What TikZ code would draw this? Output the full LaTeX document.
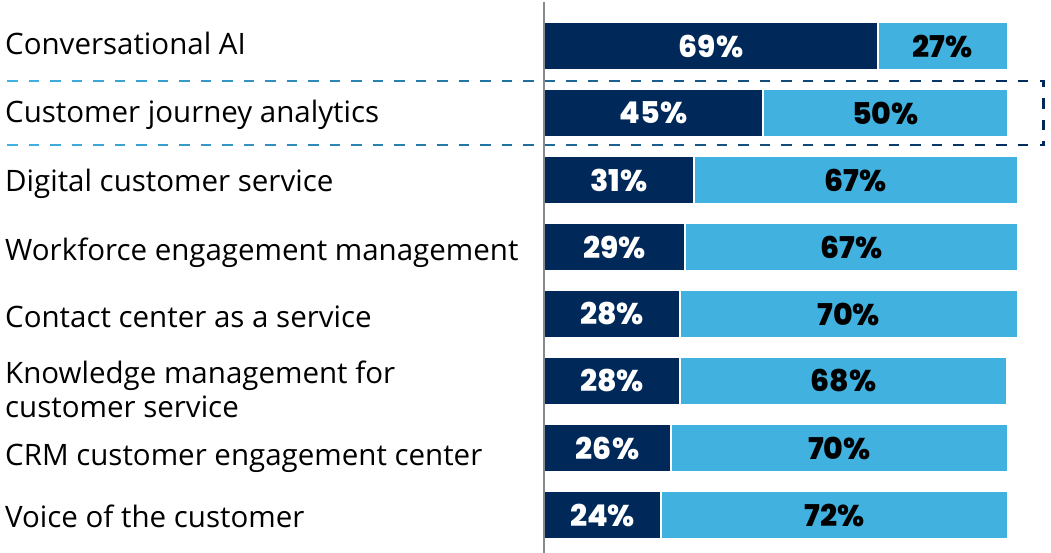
\documentclass[tikz,border=0pt]{standalone}
\usepackage{fontspec}
\setmainfont{Open Sans}
\newfontfamily\numfont{Poppins}[BoldFont={Poppins ExtraBold}]
\usetikzlibrary{positioning}
\definecolor{navy}{HTML}{00295A}
\definecolor{sky}{HTML}{41B2E0}
\definecolor{axisgray}{HTML}{868C8E}

\begin{document}
\begin{tikzpicture}[x=1pt, y=-1pt,
  lab/.style={anchor=base west, inner sep=0pt, align=left, font=\fontsize{29.5}{34}\selectfont},
  bar/.style={anchor=west, inner sep=0pt, outer sep=0pt, minimum height=46pt},
  darkbar/.style={bar, fill=navy, text=white, font=\numfont\bfseries\fontsize{30}{30}\selectfont},
  lightbar/.style={bar, fill=sky, text=black, font=\numfont\bfseries\fontsize{30}{30}\selectfont}]
\useasboundingbox (0,0) rectangle (1051,553);

% bars and labels
\foreach \lbl/\base/\d/\l/\xa/\xb [count=\i] in {
  Conversational AI/55/69/27/877/1007,
  Customer journey analytics/123/45/50/762/1007,
  Digital customer service/192/31/67/693/1017,
  Workforce engagement management/260/29/67/684/1017,
  Contact center as a service/327/28/70/679/1017,
  {Knowledge management for\\customer service}/417/28/68/679/1006,
  CRM customer engagement center/465/26/70/670/1007,
  Voice of the customer/527/24/72/660/1007}
{
  \pgfmathsetmacro\yc{46+67*(\i-1)}
  \pgfmathsetmacro\wa{\xa-545}
  \pgfmathsetmacro\wb{\xb-\xa-1.5}
  \node[lab] (lab-\i) at (5,\base) {\lbl};
  \node[darkbar, minimum width=\wa pt] (dk-\i) at (545,\yc) {\d\%};
  \node[lightbar, minimum width=\wb pt, right=1.5pt of dk-\i] (lt-\i) {\l\%};
}

% axis
\coordinate (axtop) at (544,2);
\coordinate (axbot) at (544,553);
\draw[axisgray, line width=2.2pt] (axtop) -- (axbot);

% highlight frame
\foreach \x in {7,28.5,...,1030}{
  \pgfmathsetmacro\mx{(\x-7)/1037*100}
  \draw[navy!\mx!sky, line width=2.8pt] (\x,81) -- ++(10.5,0);
  \draw[navy!\mx!sky, line width=2.8pt] (\x,145) -- ++(10.5,0);
}
\coordinate (fr-ne) at (1043.5,81);
\coordinate (fr-se) at (1043.5,145);
\draw[navy, line width=2.8pt, dash pattern=on 10.5pt off 11pt]
  ([xshift=-4pt]fr-ne) -- (fr-ne) -- (fr-se) -- ([xshift=-4pt]fr-se);
\end{tikzpicture}
\end{document}
